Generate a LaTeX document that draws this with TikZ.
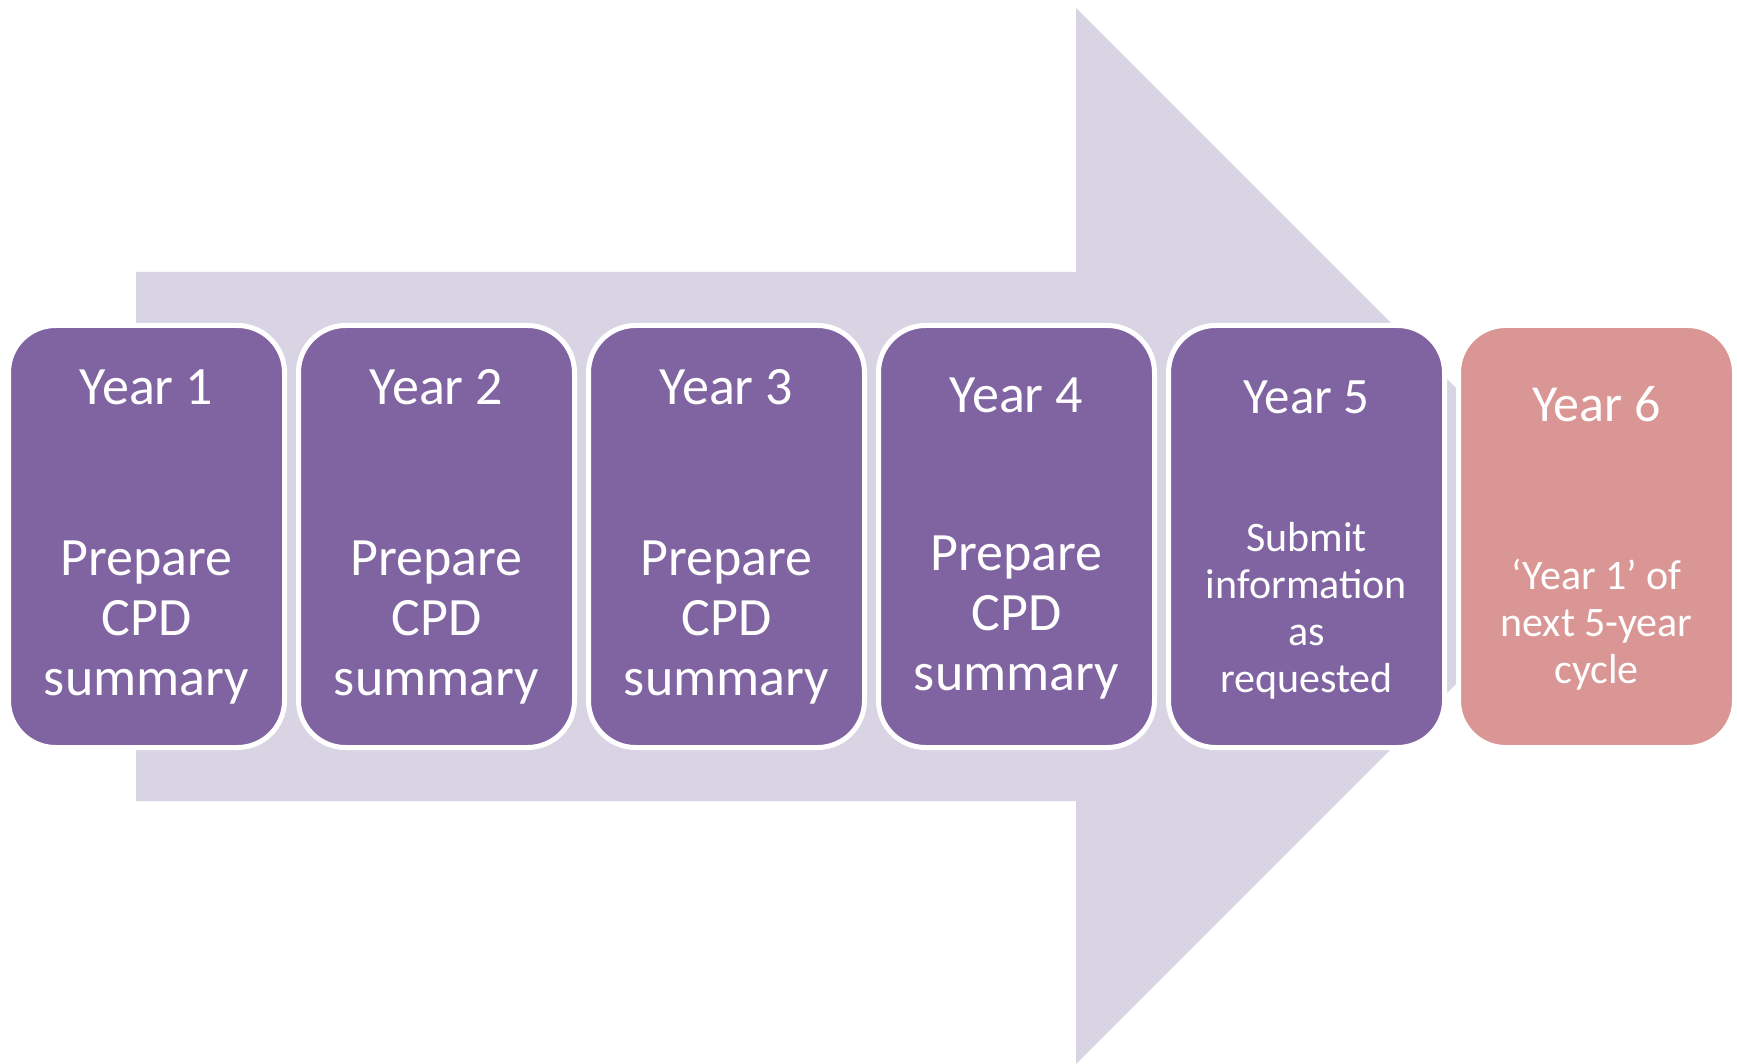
\documentclass[tikz,border=0pt]{standalone}
\usepackage{fontspec}
\setmainfont{Carlito}
\definecolor{boxpurple}{HTML}{8064A2}
\definecolor{boxpink}{HTML}{D99694}
\definecolor{arrowfill}{HTML}{D8D4E3}
\begin{document}
\begin{tikzpicture}[x=1pt,y=-1pt,
  yearbox/.style={rounded corners=47pt, draw=white, line width=5pt,
    minimum width=276pt, minimum height=422pt, inner sep=0pt},
  title/.style={text=white, anchor=base, inner sep=0pt},
  body/.style={text=white, anchor=base, align=center, inner sep=0pt},
  bigfont/.style={font=\fontsize{54}{60}\selectfont},
  smallfont/.style={font=\fontsize{42}{47}\selectfont}]
\useasboundingbox (0,0) rectangle (1737,1064);
% big background arrow
\fill[arrowfill] (136,272) -- (1076,272) -- (1076,8) -- (1604,536)
  -- (1076,1064) -- (1076,801) -- (136,801) -- cycle;
% boxes
\node[yearbox, fill=boxpurple] (b1) at (146.5,536.5) {};
\node[yearbox, fill=boxpurple] (b2) at (436.5,536.5) {};
\node[yearbox, fill=boxpurple] (b3) at (726.5,536.5) {};
\node[yearbox, fill=boxpurple] (b4) at (1016.5,536.5) {};
\node[yearbox, fill=boxpurple] (b5) at (1306.5,536.5) {};
\node[yearbox, fill=boxpink] (b6) at (1596.5,536.5) {};
% titles
\node[title, bigfont] (t1) at (146.5,404) {Year 1};
\node[title, bigfont] (t2) at (436.5,404) {Year 2};
\node[title, bigfont] (t3) at (726.5,404) {Year 3};
\node[title, bigfont] (t4) at (1016.5,412) {Year 4};
\node[title, font=\fontsize{51}{56}\selectfont] (t5) at (1306.5,413) {Year 5};
\node[title, font=\fontsize{52}{58}\selectfont] (t6) at (1596.5,421) {Year 6};
% bodies (base anchor = baseline of the last line)
\node[body, bigfont] (d1) at (146.5,695) {Prepare\\CPD\\summary};
\node[body, bigfont] (d2) at (436.5,695) {Prepare\\CPD\\summary};
\node[body, bigfont] (d3) at (726.5,695) {Prepare\\CPD\\summary};
\node[body, bigfont] (d4) at (1016.5,690) {Prepare\\CPD\\summary};
\node[body, smallfont] (d5) at (1306.5,692) {Submit\\information\\as\\requested};
\node[body, smallfont] (d6) at (1596.5,683) {‘Year 1’ of\\next 5-year\\cycle};
\end{tikzpicture}
\end{document}
